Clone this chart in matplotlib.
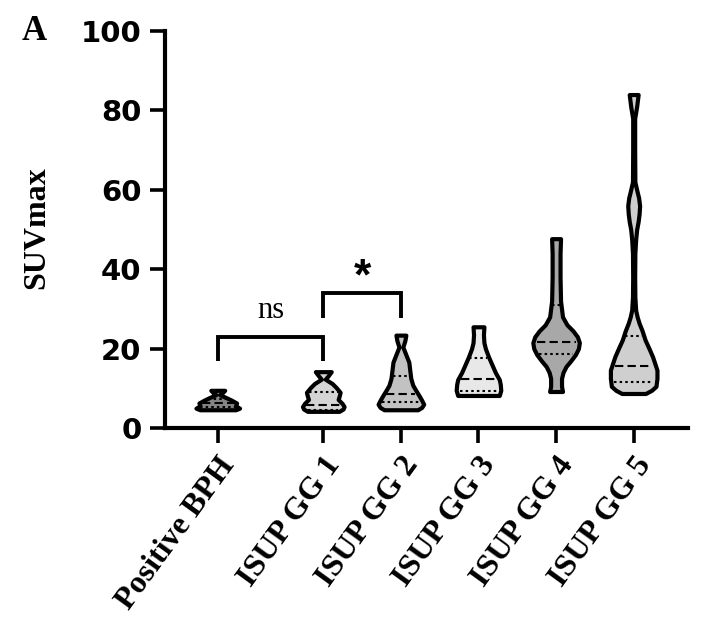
import numpy as np
import matplotlib
matplotlib.use('Agg')
import matplotlib.pyplot as plt
from matplotlib import transforms

# ---------------- data ----------------
categories = ['Positive BPH', 'ISUP GG 1', 'ISUP GG 2', 'ISUP GG 3', 'ISUP GG 4', 'ISUP GG 5']

# violin outlines: SUVmax levels and relative density (half-width, 23.5 = widest)
bph_levels = [4.6, 5.0, 5.6, 6.3, 7.0, 7.6, 8.4, 9.0, 9.5]
bph_density = [18, 22, 18, 19, 14, 9, 2, 5, 7]

gg1_levels = [4.2, 4.8, 5.4, 6.2, 7.2, 8.0, 9.0, 10.2, 11.2, 12.3, 13.2, 14.2]
gg1_density = [16, 20, 21, 19, 15, 16, 17, 13, 9, 2, 5, 8]

gg2_levels = [4.6, 5.2, 6.0, 7.0, 8.3, 9.5, 10.8, 12.5, 14.5, 16.6, 18.5, 20.4, 22.0, 23.4]
gg2_density = [17, 21, 23, 21, 18, 15, 12, 10, 9, 8, 5, 2, 4, 5]

gg3_levels = [8.2, 9.5, 11.0, 12.2, 14.0, 16.0, 18.0, 20.0, 21.5, 23.5, 25.5]
gg3_density = [21, 22.5, 22, 21, 17, 13.5, 10, 7, 5.5, 5, 5.5]

gg4_levels = [9.2, 10.5, 12.5, 14.0, 15.5, 17.0, 18.5, 20.0, 21.5, 23.0, 24.5, 26.0, 28.0, 32, 38, 44, 47.7]
gg4_density = [6.5, 5.5, 5.5, 7, 10, 15, 19.5, 22.5, 23.5, 21.5, 17, 11, 6.5, 4.5, 4, 4, 4.5]

gg5_levels = [8.7, 9.5, 10.5, 12.5, 14.6, 16.5, 18.0, 20.0, 22.2, 24.5, 26.4, 28.0, 29.7, 33, 38, 44,
              47.5, 50, 52, 54, 56, 58, 59.5, 62, 70, 78, 81, 84]
gg5_density = [12, 18, 22.5, 23.5, 23.5, 21, 19, 15.5, 11.5, 8.5, 5.5, 3.5, 2, 1.2, 1.0, 1.2,
               2, 3, 4.5, 5.5, 6, 5, 3.5, 1.2, 1.0, 1.0, 3, 4.5]

medians = [6.2, 5.8, 8.6, 12.3, 21.7, 15.6]
q1 = [5.2, 4.5, 6.5, 9.3, 18.6, 11.6]
q3 = [7.3, 9.0, 13.2, 17.6, 31.0, 23.2]

fill_colors = ['#858585', '#d4d4d4', '#c2c2c2', '#e8e8e8', '#a8a8a8', '#cfcfcf']

# significance brackets: (group a, group b, label, bar level, leg-end level, label level)
comparisons = [(0, 1, 'ns', 22.9, 17.0, 29.5),
               (1, 2, '*', 34.0, 27.7, 37.8)]

yticks = [0, 20, 40, 60, 80, 100]

# ---------------- drawing ----------------
levels_all = [bph_levels, gg1_levels, gg2_levels, gg3_levels, gg4_levels, gg5_levels]
density_all = [bph_density, gg1_density, gg2_density, gg3_density, gg4_density, gg5_density]

# x layout: first group set apart from the ISUP groups
xpos = np.array([0.0] + [1.36 + i for i in range(5)])
half_max = 0.30

fig = plt.figure(figsize=(7.06, 6.18), dpi=100)
ax = fig.add_axes([0.2337, 0.3074, 0.7408, 0.6424])

for i in range(6):
    lv = np.asarray(levels_all[i], float)
    dn = np.asarray(density_all[i], float)
    hw = dn / 23.5 * half_max
    ax.fill_betweenx(lv, xpos[i] - hw, xpos[i] + hw, facecolor=fill_colors[i],
                     edgecolor='black', linewidth=3.0, joinstyle='round', zorder=2)
    for val, style in [(medians[i], (0, (4, 2))), (q1[i], (0, (1.2, 1.5))), (q3[i], (0, (1.2, 1.5)))]:
        w = np.interp(val, lv, hw) * 0.85
        ax.plot([xpos[i] - w, xpos[i] + w], [val, val], color='black', lw=1.5,
                linestyle=style, solid_capstyle='butt', dash_capstyle='butt', zorder=3)

for a, b, lab, top, leg, ty in comparisons:
    ax.plot([xpos[a], xpos[a], xpos[b], xpos[b]], [leg, top, top, leg], color='black',
            lw=2.8, solid_joinstyle='miter', solid_capstyle='butt', zorder=3)
    if lab == '*':
        ax.text((xpos[a] + xpos[b]) / 2, ty, lab, ha='center', va='center',
                fontsize=32, fontweight='bold', family='Liberation Sans')
    else:
        ax.text((xpos[a] + xpos[b]) / 2, ty, lab, ha='center', va='center',
                fontsize=22, family='Liberation Serif')

ax.set_xlim(-0.68, 6.06)
ax.set_ylim(0, 100)
ax.set_yticks(yticks)
ax.set_yticklabels([str(t) for t in yticks], fontsize=21, fontweight='bold', family='DejaVu Sans')
ax.set_xticks(xpos)
ax.set_xticklabels(categories, rotation=54, ha='right', va='top', rotation_mode='anchor',
                   fontsize=23, fontweight='bold', family='Liberation Serif')
shift = transforms.ScaledTranslation(12 / 72, 0, fig.dpi_scale_trans)
for lbl in ax.get_xticklabels():
    lbl.set_transform(lbl.get_transform() + shift)
ax.tick_params(axis='both', length=11, width=2.6, direction='out')
ax.tick_params(axis='y', pad=6)
ax.tick_params(axis='x', pad=6)
for s in ['top', 'right']:
    ax.spines[s].set_visible(False)
for s in ['left', 'bottom']:
    ax.spines[s].set_linewidth(3.0)
ax.spines['left'].set_capstyle('projecting')

fig.text(37 / 706, 1 - 228 / 618, 'SUVmax', rotation=90, ha='center', va='center',
         fontsize=23, fontweight='bold', family='Liberation Serif')
fig.text(34 / 706, 1 - 31 / 618, 'A', ha='center', va='center',
         fontsize=25, fontweight='bold', family='Liberation Serif')

fig.savefig('out.png', dpi=100)
